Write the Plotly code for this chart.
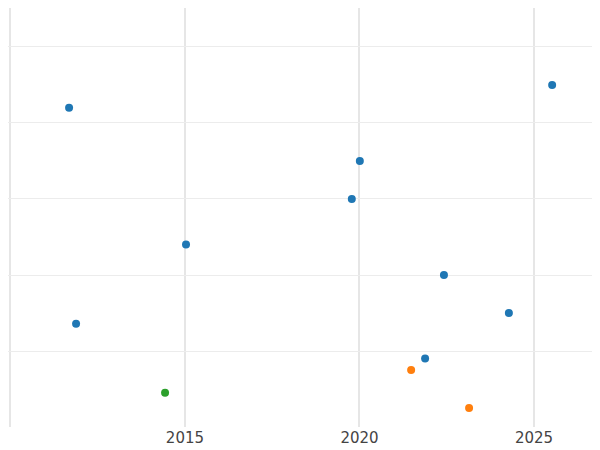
import plotly.graph_objects as go

blue_x = [2011.68, 2025.52, 2020.01, 2019.78, 2015.03, 2022.42, 2024.28, 2011.88, 2021.88]
blue_y = [4.2, 4.5, 3.5, 3.0, 2.4, 2.0, 1.5, 1.36, 0.9]
orange_x = [2021.48, 2023.14]
orange_y = [0.75, 0.25]
green_x = [2014.43]
green_y = [0.45]
tick_vals = [2010, 2015, 2020, 2025]
tick_text = ["", "2015", "2020", "2025"]

fig = go.Figure()
for xs, ys, c in [(blue_x, blue_y, "#1f77b4"), (orange_x, orange_y, "#ff7f0e"), (green_x, green_y, "#2ca02c")]:
    fig.add_trace(go.Scatter(x=xs, y=ys, mode="markers", marker=dict(color=c, size=8), showlegend=False))

fig.update_layout(
    width=600, height=450, margin=dict(l=0, r=0, t=0, b=31),
    plot_bgcolor="white", paper_bgcolor="white",
    font=dict(family="DejaVu Sans", size=15, color="#444"),
    xaxis=dict(range=[2009.93, 2027.12], tickvals=tick_vals, ticktext=tick_text,
               showgrid=True, gridcolor="#e6e6e6", gridwidth=2, zeroline=False, showline=False),
    yaxis=dict(range=[0, 5.513], dtick=1, showticklabels=False, showgrid=True,
               gridcolor="#ececec", gridwidth=1, zeroline=False, showline=False),
)
fig.write_html("out.html")
